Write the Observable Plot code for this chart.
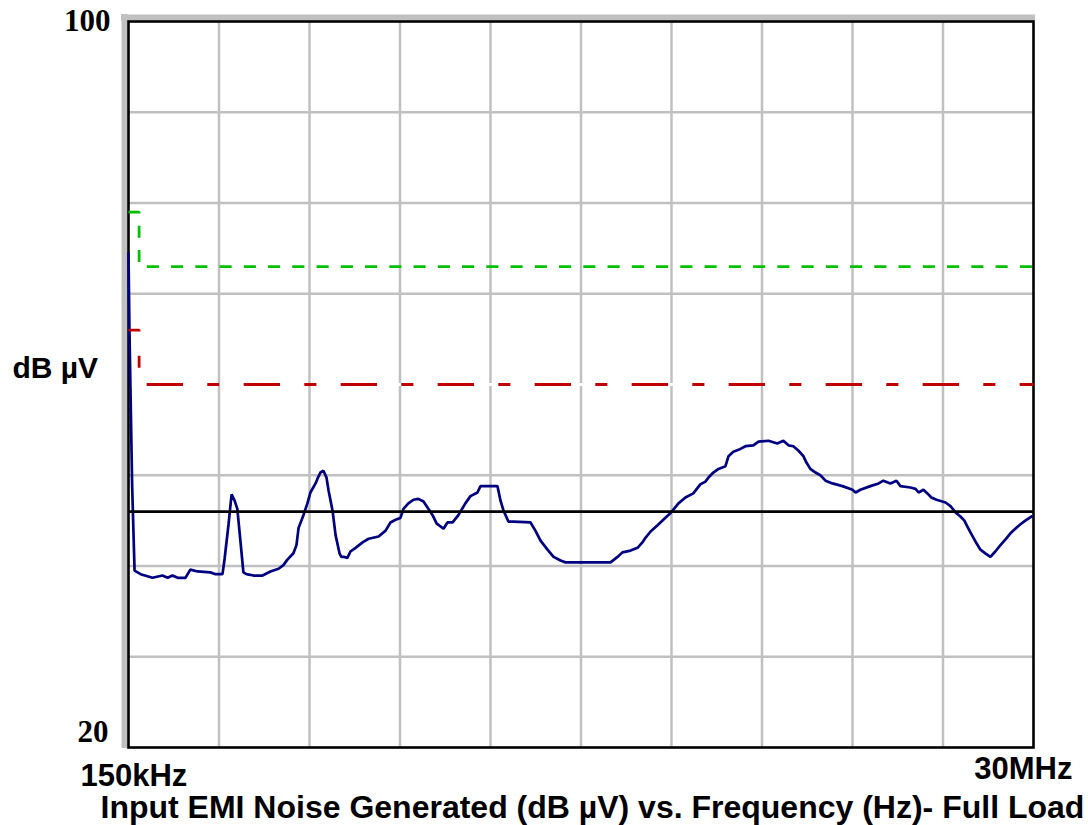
<!DOCTYPE html>
<html>
<head>
<meta charset="utf-8">
<script src="https://cdn.jsdelivr.net/npm/d3@7"></script>
<script src="https://cdn.jsdelivr.net/npm/@observablehq/plot@0.6"></script>
<style>
  html, body { margin: 0; padding: 0; background: #ffffff; }
  #chart svg { display: block; }
</style>
</head>
<body>
<div id="chart"></div>
<script>
// Measured EMI trace (frequency in MHz, level in dB µV)
const freqMHz = [0.15, 0.18, 0.27, 0.35, 0.55, 0.94, 1.27, 1.44, 1.60, 1.77, 2.03, 2.19, 2.43, 2.85, 3.02, 3.25,
  3.32, 3.45, 3.55, 3.65, 3.74, 3.84, 3.94, 4.04, 4.27, 4.57, 4.83, 5.10, 5.26, 5.39, 5.59, 5.69, 5.76, 5.92,
  6.05, 6.15, 6.32, 6.38, 6.48, 6.58, 6.68, 6.75, 6.88, 6.98, 7.11, 7.17, 7.27, 7.37, 7.47, 7.64, 7.87, 8.07,
  8.40, 8.63, 8.79, 8.96, 9.12, 9.22, 9.38, 9.55, 9.71, 9.88, 10.04, 10.18, 10.31, 10.54, 10.67, 10.84, 11.03,
  11.26, 11.43, 11.66, 11.76, 11.99, 12.32, 12.42, 12.52, 12.68, 12.85, 13.41, 13.57, 13.74, 13.97, 14.17,
  14.40, 14.56, 16.05, 16.28, 16.44, 16.71, 16.94, 17.10, 17.20, 17.37, 17.60, 17.79, 18.02, 18.29, 18.52,
  18.78, 19.01, 19.18, 19.28, 19.44, 19.61, 19.84, 19.94, 20.10, 20.27, 20.50, 20.76, 20.93, 21.26, 21.55,
  21.75, 21.92, 22.08, 22.25, 22.41, 22.51, 22.64, 22.81, 22.97, 23.14, 23.37, 23.70, 24.03, 24.13, 24.29,
  24.62, 24.89, 25.05, 25.28, 25.48, 25.61, 25.94, 26.11, 26.21, 26.37, 26.50, 26.63, 26.80, 27.10, 27.26,
  27.43, 27.59, 27.72, 27.82, 27.92, 28.02, 28.12, 28.25, 28.41, 28.58, 28.74, 28.91, 29.07, 29.24, 29.40,
  29.57, 29.73, 29.93];
const levelDb = [74.4, 66.3, 48.9, 39.5, 39.1, 38.7, 38.95, 38.7, 38.95, 38.7, 38.7, 39.6, 39.4, 39.3, 39.1, 39.1,
  40.8, 44.6, 47.9, 47.2, 46.3, 42.8, 39.3, 39.1, 38.95, 38.95, 39.4, 39.7, 40.1, 40.7, 41.4, 42.3, 44.2, 45.6,
  46.9, 48.1, 49.1, 49.6, 50.3, 50.5, 49.75, 48.3, 46.1, 43.4, 41.4, 41.0, 41.0, 40.9, 41.6, 42.0, 42.6, 43.0,
  43.25, 43.9, 44.8, 45.1, 45.3, 46.3, 46.9, 47.3, 47.4, 47.1, 46.3, 45.6, 44.7, 44.1, 44.8, 44.8, 45.6,
  46.9, 47.7, 48.1, 48.8, 48.8, 48.8, 47.2, 46.1, 44.9, 44.9, 44.8, 43.9, 42.8, 41.8, 41.0,
  40.6, 40.4, 40.4, 41.0, 41.5, 41.7, 42.0, 42.6, 43.1, 43.8, 44.5, 45.1, 45.8, 46.9, 47.55,
  48.0, 49.0, 49.3, 49.75, 50.3, 50.7, 51.0, 52.1, 52.6, 52.8, 53.2, 53.3, 53.7, 53.8, 53.5,
  53.8, 53.3, 53.2, 52.7, 52.1, 51.4, 50.7, 50.3, 50.0, 49.4, 49.1, 48.8, 48.4, 48.1, 48.4,
  48.8, 49.1, 49.4, 49.1, 49.4, 48.8, 48.65, 48.5, 48.1, 48.4, 48.0, 47.55, 47.3, 47.0, 46.6,
  45.9, 45.45, 45.0, 44.35, 43.7, 43.1, 42.5, 41.8, 41.4, 41.0, 41.6, 42.3, 42.9, 43.6, 44.1,
  44.6, 45.0, 45.45];

// Limit lines (step at 500 kHz)
const limitFreqMHz = [0.15, 0.5, 0.5, 30];
const quasiPeakLimitDb = [79, 79, 73, 73];
const averageLimitDb = [66, 66, 60, 60];
const referenceLevelDb = [46];

// Axis extents and grid
const xDomain = [0.15, 30];
const yDomain = [20, 100];
const xGridMHz = [3.135, 6.12, 9.105, 12.09, 15.075, 18.06, 21.045, 24.03, 27.015];
const yGridDb = [30, 40, 50, 60, 70, 80, 90];
const yTickLabels = ["100", "20"];
const xTickLabels = ["150kHz", "30MHz"];
const yLabel = "dB µV";
const caption = "Input EMI Noise Generated (dB µV) vs. Frequency (Hz)- Full Load";

const trace = freqMHz.map((f, i) => ({f, v: levelDb[i]}));
const qp = limitFreqMHz.map((f, i) => ({f, v: quasiPeakLimitDb[i]}));
const avg = limitFreqMHz.map((f, i) => ({f, v: averageLimitDb[i]}));

const sans = "'Liberation Sans', Arial, sans-serif";
const serif = "'Liberation Serif', 'Times New Roman', serif";
const grey = "#c0c0c0";

const chart = Plot.plot({
  width: 1088,
  height: 825,
  marginLeft: 128,
  marginRight: 55,
  marginTop: 21,
  marginBottom: 78,
  x: {domain: xDomain, axis: null},
  y: {domain: yDomain, axis: null},
  marks: [
    Plot.ruleX(xGridMHz, {stroke: grey, strokeWidth: 2.5, strokeOpacity: 1}),
    Plot.ruleY(yGridDb, {stroke: grey, strokeWidth: 2.5, strokeOpacity: 1}),
    // raised grey border top & left
    Plot.ruleY([yDomain[1]], {stroke: grey, strokeWidth: 6, dy: -4, insetLeft: -7, insetRight: -2}),
    Plot.ruleX([xDomain[0]], {stroke: grey, strokeWidth: 6, dx: -4, insetTop: -7, insetBottom: -1}),
    // white under the average limit (hides the grid there)
    Plot.ruleY([averageLimitDb[3]], {stroke: "#ffffff", strokeWidth: 3}),
    Plot.frame({stroke: "#000000", strokeWidth: 2.6}),
    Plot.line(trace, {x: "f", y: "v", stroke: "#000080", strokeWidth: 2.7, strokeLinejoin: "miter", strokeLinecap: "square"}),
    Plot.line(qp, {x: "f", y: "v", stroke: "#00c000", strokeWidth: 2.8, strokeDasharray: "12.1,12.15", strokeLinecap: "butt", strokeLinejoin: "miter"}),
    Plot.line(avg, {x: "f", y: "v", stroke: "#c00000", strokeWidth: 2.8, strokeDasharray: "36.4,24.25,12.1,24.25", strokeDashoffset: 24.4, strokeLinecap: "butt", strokeLinejoin: "miter"}),
    Plot.ruleY(referenceLevelDb, {stroke: "#000000", strokeWidth: 2.8}),
    // y labels
    Plot.text([yTickLabels[0]], {text: d => d, frameAnchor: "top-left", textAnchor: "end", lineAnchor: "middle", dx: -18, dy: 0, fontFamily: serif, fontWeight: "bold", fontSize: 31, fill: "#000"}),
    Plot.text([yTickLabels[1]], {text: d => d, frameAnchor: "bottom-left", textAnchor: "end", lineAnchor: "bottom", dx: -20, dy: -6, fontFamily: serif, fontWeight: "bold", fontSize: 31, fill: "#000"}),
    Plot.text([yLabel], {text: d => d, frameAnchor: "left", textAnchor: "start", lineAnchor: "bottom", dx: -116, dy: -7, fontFamily: sans, fontWeight: "bold", fontSize: 30, fill: "#000"}),
    // x labels
    Plot.text([xTickLabels[0]], {text: d => d, frameAnchor: "bottom-left", textAnchor: "start", lineAnchor: "bottom", dx: -48, dy: 38, fontFamily: sans, fontWeight: "bold", fontSize: 31, fill: "#000"}),
    Plot.text([xTickLabels[1]], {text: d => d, frameAnchor: "bottom-right", textAnchor: "end", lineAnchor: "bottom", dx: 39, dy: 31, fontFamily: sans, fontWeight: "bold", fontSize: 31, fill: "#000"}),
    Plot.text([caption], {text: d => d, frameAnchor: "bottom-left", textAnchor: "start", lineAnchor: "bottom", dx: -28, dy: 70, fontFamily: sans, fontWeight: "bold", fontSize: 32, fill: "#000"})
  ]
});
document.getElementById("chart").appendChild(chart);
</script>
</body>
</html>
